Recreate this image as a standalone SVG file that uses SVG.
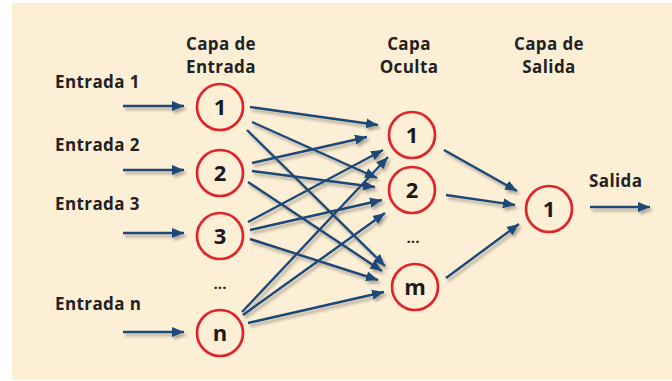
<svg xmlns="http://www.w3.org/2000/svg" width="672" height="381" viewBox="0 0 672 381">
<defs>
<style>
.lbl{font-family:"Open Sans","Noto Sans","DejaVu Sans",sans-serif;font-weight:700;font-size:17px;letter-spacing:0.4px;fill:#222}
.hdr{font-family:"Open Sans","Noto Sans","DejaVu Sans",sans-serif;font-weight:700;font-size:17px;letter-spacing:0.4px;fill:#222;text-anchor:middle}
.num{font-family:"Open Sans","Noto Sans","DejaVu Sans",sans-serif;font-weight:700;font-size:22px;fill:#1a1a1a;text-anchor:middle}
.dots{font-family:"Open Sans","Noto Sans","DejaVu Sans",sans-serif;font-weight:700;font-size:15px;fill:#222;text-anchor:middle}
.node{fill:none;stroke:#e0242a;stroke-width:2.7}
.conn line{stroke:#1d4877;stroke-width:2.4;marker-end:url(#ah)}
</style>
<marker id="ah" markerUnits="userSpaceOnUse" markerWidth="13" markerHeight="11" refX="12" refY="5.5" orient="auto">
<path d="M0,0.5 L12,5.5 L0,10.5 z" fill="#1d4877"/>
</marker>
<filter id="sh" x="-10%" y="-10%" width="120%" height="130%">
<feDropShadow dx="2" dy="3" stdDeviation="1.5" flood-color="#000" flood-opacity="0.3"/>
</filter>
</defs>
<rect x="12" y="3" width="660" height="377" fill="#fdefd6"/>

<g id="headers">
<text class="hdr" x="221" y="50">Capa de</text>
<text class="hdr" x="221" y="73">Entrada</text>
<text class="hdr" x="409" y="50">Capa</text>
<text class="hdr" x="409" y="73">Oculta</text>
<text class="hdr" x="549" y="50">Capa de</text>
<text class="hdr" x="549" y="73">Salida</text>
</g>

<g id="labels">
<text class="lbl" x="55" y="88">Entrada 1</text>
<text class="lbl" x="55" y="151">Entrada 2</text>
<text class="lbl" x="55" y="210">Entrada 3</text>
<text class="lbl" x="55" y="310">Entrada n</text>
<text class="lbl" x="589" y="187">Salida</text>
<text class="dots" x="220" y="289">...</text>
<text class="dots" x="413" y="243">...</text>
</g>

<g id="connectors" class="conn" filter="url(#sh)">
<line x1="123" y1="106" x2="184" y2="106"/>
<line x1="123" y1="170" x2="184" y2="170"/>
<line x1="123" y1="233" x2="184" y2="233"/>
<line x1="123" y1="332" x2="184" y2="332"/>
<line x1="250" y1="107" x2="378" y2="125"/>
<line x1="252" y1="122" x2="377" y2="178"/>
<line x1="247" y1="130" x2="385" y2="266"/>
<line x1="252" y1="163" x2="367" y2="137"/>
<line x1="252" y1="171" x2="375" y2="187"/>
<line x1="248" y1="182" x2="382" y2="271"/>
<line x1="248" y1="222" x2="383" y2="150"/>
<line x1="250" y1="230" x2="382" y2="200"/>
<line x1="250" y1="239" x2="378" y2="280"/>
<line x1="242" y1="312" x2="388" y2="157"/>
<line x1="243" y1="315" x2="385" y2="213"/>
<line x1="248" y1="323" x2="384" y2="292"/>
<line x1="444" y1="150" x2="517" y2="191"/>
<line x1="446" y1="195" x2="515" y2="205"/>
<line x1="446" y1="278" x2="519" y2="224"/>
<line x1="590" y1="207" x2="650" y2="207"/>
</g>

<g id="in1"><circle class="node" cx="220" cy="107" r="23"/><text class="num" x="220" y="115">1</text></g>
<g id="in2"><circle class="node" cx="220" cy="173" r="23"/><text class="num" x="220" y="181">2</text></g>
<g id="in3"><circle class="node" cx="220" cy="236" r="23"/><text class="num" x="220" y="244">3</text></g>
<g id="inn"><circle class="node" cx="220" cy="333" r="23"/><text class="num" x="220" y="341">n</text></g>
<g id="h1"><circle class="node" cx="412" cy="135" r="23"/><text class="num" x="412" y="143">1</text></g>
<g id="h2"><circle class="node" cx="412" cy="190" r="23"/><text class="num" x="412" y="198">2</text></g>
<g id="hm"><circle class="node" cx="415" cy="287" r="23"/><text class="num" x="415" y="295">m</text></g>
<g id="out1"><circle class="node" cx="549" cy="209" r="23"/><text class="num" x="549" y="217">1</text></g>
</svg>
